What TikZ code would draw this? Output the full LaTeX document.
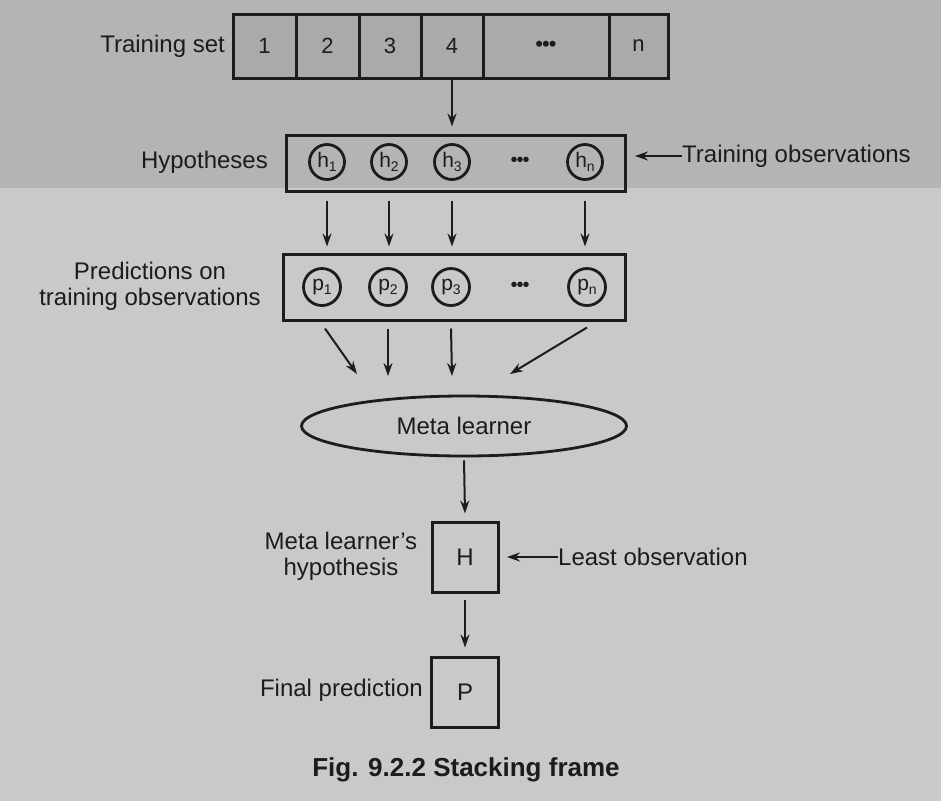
\documentclass[tikz,border=0pt]{standalone}
\usepackage{fontspec}
\setmainfont{Liberation Sans}
\usetikzlibrary{arrows.meta,shapes.geometric}
\definecolor{bgtop}{RGB}{180,180,178}
\definecolor{bgbot}{RGB}{201,201,199}
\definecolor{cellfill}{RGB}{170,170,168}
\definecolor{ink}{RGB}{28,28,28}
\newcommand{\sbs}[1]{\raisebox{-4pt}{\fontsize{14}{14}\selectfont #1}}
\begin{document}
\begin{tikzpicture}[x=1pt,y=-1pt,
  txt/.style={font=\fontsize{24}{26}\selectfont, text=ink, inner sep=0pt},
  cell/.style={draw=ink, line width=3pt, fill=cellfill, minimum height=64pt, inner sep=0pt, font=\fontsize{22}{22}\selectfont, text=ink},
  frame/.style={draw=ink, line width=3pt, inner sep=0pt},
  circ/.style={circle, draw=ink, line width=2.8pt, minimum size=35pt, inner sep=0pt, font=\fontsize{21}{21}\selectfont, text=ink},
  dots/.style={font=\fontsize{20}{20}\selectfont, text=ink, inner sep=0pt},
  arr/.style={draw=ink, line width=2pt, -{Stealth[length=13pt,width=9pt]}}
]
\fill[bgtop] (0,0) rectangle (941,188);
\fill[bgbot] (0,188) rectangle (941,801);
\useasboundingbox (0,0) rectangle (941,801);

% Training set
\node[cell, minimum width=63pt] (c1) at (264.5,46) {1};
\node[cell, minimum width=63pt] (c2) at (327.5,46) {2};
\node[cell, minimum width=62pt] (c3) at (390,46) {3};
\node[cell, minimum width=62pt] (c4) at (452,46) {4};
\node[cell, minimum width=126pt] (c5) at (546,46) {\textbullet\kern-1pt\textbullet\kern-1pt\textbullet};
\node[cell, minimum width=59pt] (c6) at (638.5,46) {n};
\node[txt, anchor=east] (tslbl) at (225,46) {Training set};

% Hypotheses
\node[frame, minimum width=339pt, minimum height=56pt] (hyp) at (455.5,163) {};
\node[circ] (h1) at (327,162) {h\sbs{1}};
\node[circ] (h2) at (389,162) {h\sbs{2}};
\node[circ] (h3) at (452,162) {h\sbs{3}};
\node[dots] (hd) at (520,162) {\textbullet\kern-1pt\textbullet\kern-1pt\textbullet};
\node[circ] (hn) at (585,162) {h\sbs{n}};
\node[txt, anchor=east] (hyplbl) at (268,162) {Hypotheses};
\node[txt, anchor=west] (tobs) at (682,156) {Training observations};
\coordinate (hypR) at (635,156);
\draw[arr] (tobs.west) -- (hypR);

\draw[arr] (c4.south) -- ([yshift=7pt]c4.south |- hyp.north);

% Predictions
\node[frame, minimum width=342pt, minimum height=66pt] (pred) at (454,287) {};
\node[circ, minimum size=37pt] (p1) at (322,287) {p\sbs{1}};
\node[circ, minimum size=37pt] (p2) at (388,287) {p\sbs{2}};
\node[circ, minimum size=37pt] (p3) at (451,287) {p\sbs{3}};
\node[dots] (pd) at (520,287) {\textbullet\kern-1pt\textbullet\kern-1pt\textbullet};
\node[circ, minimum size=37pt] (pn) at (587,287) {p\sbs{n}};
\node[txt, align=center] (predlbl) at (150,286) {Predictions on\\training observations};

\draw[arr] ([yshift=-8pt]h1 |- hyp.south) -- ([yshift=6pt]h1 |- pred.north);
\draw[arr] ([yshift=-8pt]h2 |- hyp.south) -- ([yshift=6pt]h2 |- pred.north);
\draw[arr] ([yshift=-8pt]h3 |- hyp.south) -- ([yshift=6pt]h3 |- pred.north);
\draw[arr] ([yshift=-8pt]hn |- hyp.south) -- ([yshift=6pt]hn |- pred.north);

% Meta learner
\node[ellipse, draw=ink, line width=2.8pt, minimum width=325pt, minimum height=60pt, inner sep=0pt, txt] (meta) at (464,426) {Meta learner};
\coordinate (m1) at (357,374);
\coordinate (m2) at (388,376);
\coordinate (m3) at (452,376);
\coordinate (m4) at (510,374);
\draw[arr] ([xshift=3pt,yshift=-7pt]p1 |- pred.south) -- (m1);
\draw[arr] ([yshift=-7pt]p2 |- pred.south) -- (m2);
\draw[arr] ([yshift=-7pt]p3 |- pred.south) -- (m3);
\draw[arr] ([yshift=-6pt]pn |- pred.south) -- (m4);

% H box
\node[frame, minimum width=66pt, minimum height=70pt, txt] (H) at (465,557) {H};
\node[txt, align=center] (mlh) at (341,556) {Meta learner's\\hypothesis};
\node[txt, anchor=west] (lobs) at (558,557) {Least observation};
\coordinate (HR) at (507,557);
\draw[arr] (lobs.west) -- (HR);
\draw[arr] ([yshift=-3pt]meta.south) -- ([yshift=7pt]H.north);

% P box
\node[frame, minimum width=67pt, minimum height=70pt, txt] (P) at (465,692) {P};
\node[txt, anchor=east] (fplbl) at (423,690) {Final prediction};
\draw[arr] ([yshift=-6pt]H.south) -- ([yshift=8pt]P.north);

% Caption
\node[txt, font=\fontsize{26}{28}\selectfont\bfseries] (cap) at (466,770) {Fig. 9.2.2 Stacking frame};
\end{tikzpicture}
\end{document}
